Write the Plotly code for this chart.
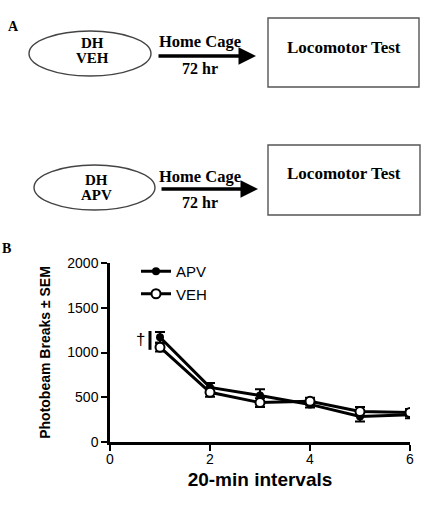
import plotly.graph_objects as go

W, H = 424, 508

intervals = [1, 2, 3, 4, 5, 6]
apv_mean = [1170, 610, 520, 420, 285, 305]
apv_sem = [60, 50, 70, 35, 55, 40]
veh_mean = [1060, 555, 440, 455, 340, 330]
veh_sem = [50, 50, 50, 40, 50, 40]

x_ticks = [0, 2, 4, 6]
y_ticks = [0, 500, 1000, 1500, 2000]


def px(x):
    return x / W


def py(y):
    return 1 - y / H


fig = go.Figure()
fig.add_trace(go.Scatter(
    x=intervals, y=apv_mean, name="APV", mode="lines+markers",
    line=dict(color="black", width=3),
    marker=dict(symbol="circle", size=8, color="black"),
    error_y=dict(type="data", array=apv_sem, color="black", thickness=2, width=5),
))
fig.add_trace(go.Scatter(
    x=intervals, y=veh_mean, name="VEH", mode="lines+markers",
    line=dict(color="black", width=3),
    marker=dict(symbol="circle", size=9, color="white", line=dict(color="black", width=2)),
    error_y=dict(type="data", array=veh_sem, color="black", thickness=2, width=5),
))

annotations = []
shapes = []


def txt(x, y, t, size=16, bold=True, family="Liberation Serif"):
    annotations.append(dict(
        x=px(x), y=py(y), xref="paper", yref="paper", showarrow=False,
        text=("<b>%s</b>" % t) if bold else t,
        font=dict(family=family, size=size, color="black"),
        xanchor="center", yanchor="middle"))


# Panel A diagram
txt(13, 26, "A", size=14)
rows = [
    dict(ex0=29, ex1=151, ey0=31, ey1=76, l1="DH", l2="VEH", ly1=43, ly2=58,
         ax0=157, ax1=256, ay=56, hc=42, hr=69, r0=268, r1=419, ry0=18, ry1=87, lt=47),
    dict(ex0=34, ex1=155, ey0=165, ey1=210, l1="DH", l2="APV", ly1=180, ly2=195,
         ax0=160, ax1=258, ay=189, hc=176, hr=203, r0=268, r1=420, ry0=145, ry1=215, lt=173),
]
for r in rows:
    shapes.append(dict(type="circle", xref="paper", yref="paper",
                       x0=px(r["ex0"]), x1=px(r["ex1"]), y0=py(r["ey1"]), y1=py(r["ey0"]),
                       line=dict(color="#444", width=1.4)))
    cx = (r["ex0"] + r["ex1"]) / 2
    txt(cx + 2, r["ly1"], r["l1"], size=15)
    txt(cx + 2, r["ly2"], r["l2"], size=15)
    annotations.append(dict(
        x=px(r["ax1"]), y=py(r["ay"]), xref="paper", yref="paper",
        ax=-(r["ax1"] - r["ax0"]), ay=0, axref="pixel", ayref="pixel",
        showarrow=True, arrowhead=2, arrowsize=1.0, arrowwidth=3.5, arrowcolor="black", text=""))
    txt(200, r["hc"], "Home Cage", size=16.5)
    txt(200, r["hr"], "72 hr", size=16)
    shapes.append(dict(type="rect", xref="paper", yref="paper",
                       x0=px(r["r0"]), x1=px(r["r1"]), y0=py(r["ry1"]), y1=py(r["ry0"]),
                       line=dict(color="#555", width=1.4)))
    txt((r["r0"] + r["r1"]) / 2, r["lt"], "Locomotor Test", size=17)

txt(6, 248, "B", size=14)

# Dagger marker for significance
annotations.append(dict(x=0.6, y=1140, xref="x", yref="y", text="†", showarrow=False,
                        font=dict(family="Liberation Sans", size=17, color="black"),
                        xanchor="center", yanchor="middle"))
shapes.append(dict(type="line", xref="x", yref="y", x0=0.8, x1=0.8, y0=1030, y1=1240,
                   line=dict(color="black", width=3)))

fig.update_layout(
    width=W, height=H, margin=dict(l=0, r=0, t=0, b=0),
    paper_bgcolor="white", plot_bgcolor="white",
    showlegend=True,
    legend=dict(x=px(136), y=py(255), xanchor="left", yanchor="top",
                font=dict(family="Liberation Sans", size=15, color="black"),
                bgcolor="rgba(0,0,0,0)", itemwidth=30, tracegroupgap=0),
    xaxis=dict(domain=[px(110), px(410)], range=[0, 6], tickvals=x_ticks,
               showgrid=False, zeroline=False, showline=True, linecolor="black", linewidth=2.5,
               ticks="outside", ticklen=6, tickwidth=2, tickcolor="black",
               tickfont=dict(family="Liberation Sans", size=14, color="black"),
               ticklabelstandoff=-4,
               title=dict(text="<b>20-min intervals</b>", standoff=8,
                          font=dict(family="Liberation Sans", size=19, color="black")),
               anchor="y", automargin=False),
    yaxis=dict(domain=[py(442), py(263)], range=[0, 2000], tickvals=y_ticks,
               showgrid=False, zeroline=False, showline=True, linecolor="black", linewidth=2.5,
               ticks="outside", ticklen=6, tickwidth=2, tickcolor="black",
               tickfont=dict(family="Liberation Sans", size=14, color="black"),
               title=dict(text="<b>Photobeam Breaks ± SEM</b>", standoff=14,
                          font=dict(family="Liberation Sans", size=14, color="black")),
               anchor="x", automargin=False),
    annotations=annotations, shapes=shapes,
)

fig.write_html("out.html")
